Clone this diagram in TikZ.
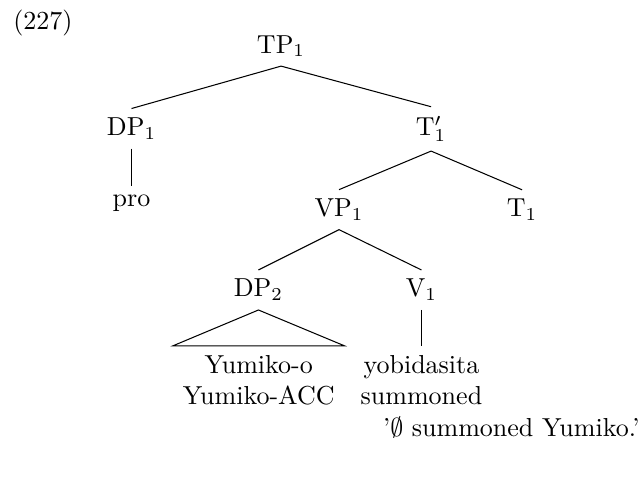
\documentclass[tikz,border=0pt]{standalone}
\usepackage{amsmath}
\usepackage{amssymb}
\usepackage{tikz}
\usetikzlibrary{positioning,calc}
\tikzset{
  cat/.style={anchor=base,inner sep=3.33pt},
  leaf/.style={anchor=north,align=center,inner sep=3.33pt},
  branch/.style={-,black,line width=0.4pt},
}
\begin{document}
\begin{tikzpicture}[x=1pt,y=1pt]
  \useasboundingbox (0,0) rectangle (247.3,-183.5);
  \node[anchor=base west,inner sep=0pt] (exnum) at (4.9,-11.2) {(227)};
  % level baselines
  \def\lA{-20.4}\def\lB{-52.1}\def\lC{-83.3}\def\lD{-114.2}
  \node[cat] (tp)   at (108.1,\lA) {TP$_1$};
  \node[cat] (dpA)  at (50.6,\lB)  {DP$_1$};
  \node[cat] (tbar) at (165.8,\lB) {T$'_1$};
  \node[cat] (pro)  at (50.6,-79.6) {pro};
  \node[cat] (vp)   at (130.4,\lC) {VP$_1$};
  \node[cat] (t)    at (200.8,\lC) {T$_1$};
  \node[cat] (dpB)  at (99.4,\lD)  {DP$_2$};
  \node[cat] (v)    at (162.1,\lD) {V$_1$};
  \node[leaf,inner xsep=3.6pt] (yum) at (99.5,-133) {Yumiko-o\\Yumiko-ACC};
  \node[leaf] (yobi) at (162.1,-133) {yobidasita\\summoned};
  \draw[branch] (dpA.north)--(tp.south)--(tbar.north);
  \draw[branch] (dpA.south)--(pro.north);
  \draw[branch] (vp.north)--(tbar.south)--(t.north);
  \draw[branch] (dpB.north)--(vp.south)--(v.north);
  \draw[branch] (dpB.south)--(yum.north west)--(yum.north east)--cycle;
  \draw[branch] (v.south)--(yobi.north);
  \node[anchor=base east,inner sep=0pt] (gloss) at (246.2,-167.7) {'$\emptyset$ summoned Yumiko.'};
\end{tikzpicture}
\end{document}
